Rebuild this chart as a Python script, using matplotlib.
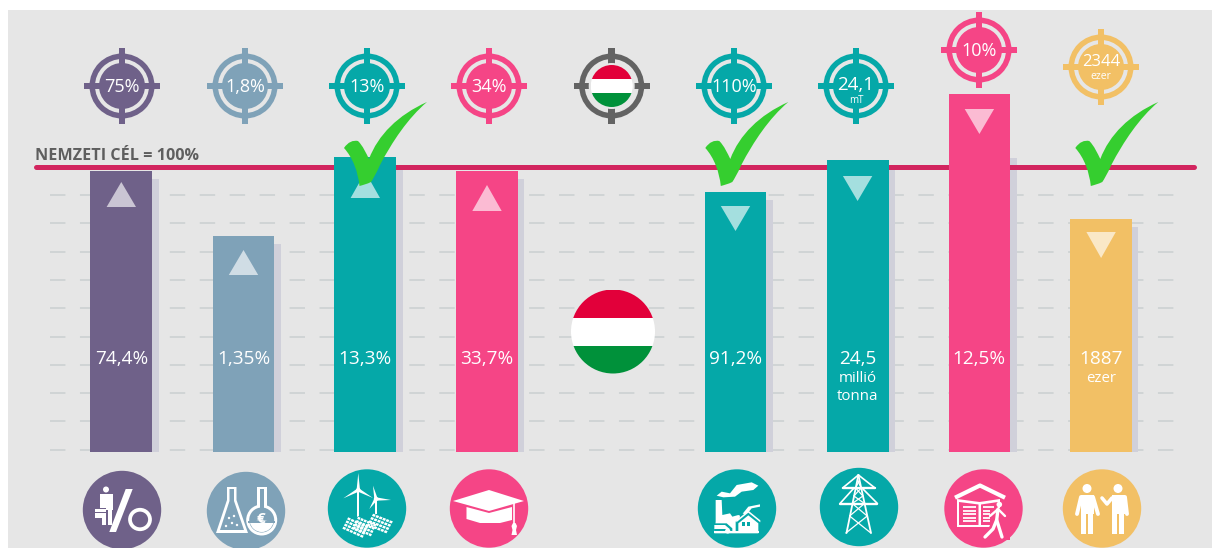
import numpy as np
import matplotlib
matplotlib.use("Agg")
import matplotlib.pyplot as plt
from matplotlib.patches import Circle, Rectangle, Polygon, PathPatch, Ellipse, Wedge
from matplotlib.path import Path

plt.rcParams['font.family'] = ['Open Sans', 'DejaVu Sans']

# ---- data (index: national target = 100) ----
bar_keys = ['foglalkoztatas', 'kfi', 'megujulo', 'felsofoku', 'energia', 'kibocsatas', 'iskola', 'szegenyseg']
bar_values = [98.6, 75.8, 103.5, 98.6, 91.2, 102.5, 125.6, 81.8]
shadow_values = [95.8, 73.0, 99.3, 95.8, 88.4, 99.3, 103.2, 79.0]
bar_main_labels = ['74,4%', '1,35%', '13,3%', '33,7%', '91,2%', '24,5', '12,5%', '1887']
bar_sub_labels = ['', '', '', '', '', 'millió\ntonna', '', 'ezer']
target_main_labels = ['75%', '1,8%', '13%', '34%', '110%', '24,1', '10%', '2344']
target_sub_labels = ['', '', '', '', '', 'mT', '', 'ezer']
arrow_up = [True, True, True, True, False, False, False, False]
grid_values = [0.8, 10.8, 20.6, 30.6, 40.5, 50.4, 60.3, 70.3, 80.2, 90.2]
target_level = 100

# ---- style and layout ----
PURPLE, SLATE, TEAL, PINK, YELLOW = '#6F6189', '#7FA2B8', '#05A8A8', '#F54586', '#F2C065'
GRAY = '#E6E6E6'
bar_colors = [PURPLE, SLATE, TEAL, PINK, TEAL, TEAL, PINK, YELLOW]
bar_x = [121.3, 243.5, 365.3, 487, 735.5, 857.6, 979.4, 1101.1]
target_x = [122, 245, 367, 489, 734, 856, 979, 1101]
target_y = [86, 86, 86, 86, 86, 86, 50, 67]
icon_x = [122, 246, 367, 489, 737, 859, 983.5, 1102]
icon_y = [510, 511, 508.5, 508.5, 508.5, 507, 508.5, 508.5]
tri_y = [(207, 182), (275, 250), (198, 172), (211, 185), (206, 231), (176, 201), (109, 134), (232, 258)]
BASE, UNIT = 452.0, 2.85

fig = plt.figure(figsize=(12.12, 5.48), dpi=100, facecolor='white')
ax = fig.add_axes([0, 0, 1, 1])
ax.set_xlim(0, 1212)
ax.set_ylim((BASE - 548) / UNIT, BASE / UNIT)
ax.axis('off')
ov = fig.add_axes([0, 0, 1, 1], zorder=3)
ov.set_xlim(0, 1212)
ov.set_ylim(548, 0)
ov.axis('off')
ov.patch.set_alpha(0)
fig.add_artist(Rectangle((7.5 / 1212, 0), 1, 1 - 9.5 / 548, transform=fig.transFigure, fc=GRAY, ec='none', zorder=-5))

# grid
ax.hlines(grid_values, 49.5, 1178, colors='#CACFD0', lw=1.1, linestyles=[(0, (10.1, 9.5))], zorder=1)
# bars and shadows
ax.bar(np.array(bar_x) + 6.5, shadow_values, width=61.8, color='#D0D0DA', zorder=2)
ax.plot([36, 1194], [target_level, target_level], color='#D2255F', lw=3.6, solid_capstyle='round', zorder=2.5)
ax.bar(bar_x, bar_values, width=61.8, color=bar_colors, zorder=3)
ov.text(35, 156, 'NEMZETI CÉL = 100%', fontsize=11.6, fontweight='bold', color='#5E5E5E', va='center', ha='left')


def target(x, y, c, disk=True):
    ov.add_patch(Circle((x, y), 32.5, fc=c, ec='none'))
    ov.add_patch(Circle((x, y), 27, fc=GRAY, ec='none'))
    ov.add_patch(Rectangle((x - 3.3, y - 38), 6.6, 76, fc=c, ec='none'))
    ov.add_patch(Rectangle((x - 38, y - 3.3), 76, 6.6, fc=c, ec='none'))
    ov.add_patch(Circle((x, y), 23, fc=c if disk else GRAY, ec='none'))


def flag(x, y, r, top, bot):
    clip = Circle((x, y), r, transform=ov.transData)
    for y0, y1, col in [(y - r, top, '#E2003A'), (top, bot, 'white'), (bot, y + r, '#00913A')]:
        p = Rectangle((x - r, y0), 2 * r, y1 - y0, fc=col, ec='none')
        ov.add_patch(p)
        p.set_clip_path(clip)


for x, y, c, m, s in zip(target_x, target_y, bar_colors, target_main_labels, target_sub_labels):
    target(x, y, c)
    if s == 'mT':
        ov.text(x, y - 1.5, m, color='white', fontsize=13.5, ha='center', va='center')
        ov.text(x, y + 14.5, s, color='white', fontsize=7, ha='center', va='center')
    elif s:
        ov.text(x, y - 4.5, m, color='white', fontsize=12, ha='center', va='center')
        ov.text(x, y + 9.5, s, color='white', fontsize=7.5, ha='center', va='center')
    else:
        ov.text(x, y + 1, m, color='white', fontsize=13, ha='center', va='center')

# central Hungarian flag and its target
target(611.7, 86, '#636363', disk=False)
flag(611.7, 86, 21, 79, 93)
flag(613, 331.5, 42, 318, 345.7)

# triangles and bar labels
for x, up, (b, a), m, s in zip(bar_x, arrow_up, tri_y, bar_main_labels, bar_sub_labels):
    ov.add_patch(Polygon([(x - 14.7, b), (x + 14.7, b), (x, a)], fc='white', alpha=0.64, ec='none'))
    ov.text(x, 359.5, m, color='white', fontsize=13.7, ha='center', va='center')
    if s:
        for i, line_txt in enumerate(s.split('\n')):
            ov.text(x, 378 + 18.5 * i, line_txt, color='white', fontsize=10.8, ha='center', va='center')


def check(dx):
    P = [(344, 148), (348, 142), (353, 140), (358, 141), (363, 146), (366, 153), (369, 159),
         (378, 135), (398, 115), (427, 102),
         (408, 118), (392, 142), (380, 165), (376, 174), (373, 179), (371, 182),
         (367, 184), (363, 185), (359.5, 186),
         (358, 172), (353, 158), (344, 148)]
    codes = [Path.MOVETO] + [Path.CURVE4] * (len(P) - 1)
    ov.add_patch(PathPatch(Path([(a + dx, b) for a, b in P], codes), fc='#35CE2F', ec='none', zorder=6))


for dx in (0, 361.3, 731.3):
    check(dx)

# bottom icons
W = 'white'
for x, y, c in zip(icon_x, icon_y, bar_colors):
    ov.add_patch(Circle((x, y), 39.2, fc=c, ec='none'))


def line(pts, lw=1.5, c=W, cap='round', z=4):
    xs, ys = zip(*pts)
    ov.plot(xs, ys, color=c, lw=lw, solid_capstyle=cap, zorder=z)


def rect(x0, y0, x1, y1, c=W, z=4):
    ov.add_patch(Rectangle((x0, y0), x1 - x0, y1 - y0, fc=c, ec='none', zorder=z))


def circ(x, y, r, c=W, z=4):
    ov.add_patch(Circle((x, y), r, fc=c, ec='none', zorder=z))


def poly(pts, c=W, z=4):
    ov.add_patch(Polygon(pts, fc=c, ec='none', zorder=z))


# 1 person with percent
circ(106, 489.5, 3)
rect(100, 494, 112.7, 510)
rect(102, 510, 106, 525)
rect(107.5, 510, 111.5, 525)
rect(94.3, 507.7, 106, 517.7, PURPLE)
rect(95.3, 508.5, 105.5, 517.5)
rect(95.3, 512.3, 105.5, 513.2, PURPLE)
poly([(125.7, 489), (132.7, 489), (116, 532), (109.3, 532)])
ov.add_patch(Ellipse((140, 519.5), 20, 19.5, fc='none', ec=W, lw=2.7, zorder=4))

# 2 flasks
poly([(227, 487), (236.5, 487), (236.5, 500), (248, 533), (216, 533), (227, 500)])
poly([(229.5, 489), (234, 489), (234, 501), (244, 530), (220, 530), (229.5, 501)], SLATE)
for px, py in [(229, 518), (234, 516), (232, 523), (226, 526), (237, 525)]:
    circ(px, py, 1.2)
rect(257, 487, 266.5, 506)
circ(261.7, 520, 15.5)
rect(259.5, 489, 264, 508, SLATE)
circ(261.7, 520, 12.5, SLATE)
ov.add_patch(Wedge((261.7, 520), 12, 10, 170, fc=W, ec='none', zorder=4))
ov.text(260.5, 519, '€', color=W, fontsize=11, fontweight='bold', ha='center', va='center', zorder=5)
rect(248, 521, 275, 523, SLATE, 4.5)

# 3 wind turbines and solar panels
for hx, hy, tips, tb, tw in [(358.3, 490, [(358.3, 473), (343.3, 498.3), (373, 498)], 517, 1.1),
                             (376, 499, [(373, 485.7), (391, 500), (369.3, 509)], 514, 0.8)]:
    rect(hx - tw, hy, hx + tw, tb)
    circ(hx, hy, 2.2)
    for tx, ty in tips:
        nx, ny = -(ty - hy), tx - hx
        n = np.hypot(nx, ny)
        nx, ny = 1.7 * nx / n, 1.7 * ny / n
        poly([(hx + nx, hy + ny), (hx - nx, hy - ny), (tx, ty)])
panels = [((366, 526), (20.5, 8), (7, -13), 6, 4), ((352, 529), (19, 8), (6, -13), 6, 4),
          ((341.7, 529), (21, 9.5), (6.3, -12.4), 6, 4)]
for o, u, v, nu, nv in panels:
    o, u, v = map(np.array, (o, u, v))
    poly([o - 0.6, o + u, o + u + v, o + v], TEAL, 4)
    for i in range(nu):
        for j in range(nv):
            p0 = o + u * (i + .12) / nu + v * (j + .16) / nv
            du, dv = u * .78 / nu, v * .68 / nv
            poly([p0, p0 + du, p0 + du + dv, p0 + dv], W, 4.1)

# 4 graduation cap
poly([(466.5, 507), (489, 513), (512, 507), (512, 520), (500, 523), (480, 523), (466.5, 519)])
poly([(453, 501), (489, 490), (524, 501), (489, 511)])
line([(514, 503), (514, 524)], 1.2)
poly([(511.5, 526), (513, 523), (515.5, 523), (517, 526), (516, 530), (517, 535), (511.5, 535), (512.5, 530)])


def fx(*pts):
    return [(695 + a / 3, 465 + b / 3) for a, b in pts]


# 5 factory
poly(fx((62, 105), (80, 105), (82, 150), (105, 145), (112, 155), (130, 150), (135, 152), (130, 205), (58, 205), (62, 170)))
poly(fx((65, 92), (80, 80), (105, 85), (125, 60), (170, 52), (190, 62), (175, 75), (140, 80), (120, 95), (85, 97)))
poly(fx((143, 146), (160, 125), (195, 118), (195, 125), (170, 130), (155, 148)))
poly(fx((58, 175), (95, 175), (112, 190), (112, 198), (58, 198)), TEAL, 4.2)
poly(fx((58, 180), (90, 180), (104, 192), (58, 192)), W, 4.3)
circ(695 + 98 / 3, 465 + 198 / 3, 2.6, W, 4.4)
poly(fx((122, 170), (160, 140), (198, 170), (198, 200), (122, 200)), TEAL, 4.5)
poly(fx((130, 175), (160, 151), (190, 175), (190, 205), (130, 205)), W, 4.6)
poly(fx((124, 172), (160, 143), (196, 172), (196, 166), (160, 137), (124, 166)), W, 4.6)
rect(695 + 141 / 3, 465 + 171 / 3, 695 + 150 / 3, 465 + 182 / 3, TEAL, 4.7)
rect(695 + 156 / 3, 465 + 171 / 3, 695 + 165 / 3, 465 + 182 / 3, TEAL, 4.7)
poly(fx((58, 198), (192, 198), (192, 205), (58, 205)), W, 4.7)

# 6 pylon
line([(858.4, 475), (846.5, 533)], 1.3)
line([(858.4, 475), (871, 533)], 1.3)
line([(842.6, 488), (875, 488)], 1.7)
line([(840, 503.5), (877.4, 503.5)], 1.7)
line([(858.4, 475), (842.6, 488)], 1.2)
line([(858.4, 475), (875, 488)], 1.2)
line([(854, 488), (840, 503.5)], 1.2)
line([(862, 488), (877.4, 503.5)], 1.2)
ys = [480, 488, 496, 503.5, 516, 533]
for a, b in zip(ys[:-1], ys[1:]):
    wa, wb = (a - 475) * 0.215, (b - 475) * 0.215
    line([(858.4 - wa, a), (858.4 + wb, b)], 0.9)
    line([(858.4 + wa, a), (858.4 - wb, b)], 0.9)

# 7 house, book, walker
line([(955, 497.7), (980, 485.5), (1005, 497.7)], 3.0, cap='butt')
poly([(957, 499), (979.5, 502), (1000, 499), (1000, 527), (957, 527)])
poly([(959, 502), (978.5, 504.5), (978.5, 525), (959, 525)], PINK)
poly([(981, 504.5), (998, 502), (998, 525), (981, 525)], PINK)
for ly in (507, 510.5, 514, 517.5, 521):
    line([(963, ly), (976, ly)], 1.3, W, 'butt')
    line([(983, ly), (994, ly)], 1.3, W, 'butt')
poly([(990, 508), (1010, 508), (1010, 540), (984, 540), (990, 525)], PINK, 4.5)
circ(999.3, 504.5, 2.8, W, 5)
line([(998, 509), (996.7, 520), (1002, 537)], 2.4, W, 'round', 5)
line([(996.7, 520), (993, 529), (985, 537)], 2.4, W, 'round', 5)
line([(999, 510), (1005, 516)], 1.7, W, 'round', 5)
line([(997, 510), (990, 516)], 1.7, W, 'round', 5)

# 8 two people
for cx in (1087, 1118):
    circ(cx, 488.5, 4.5)
    rect(cx - 6.5, 495, cx + 6.5, 514)
    rect(cx - 6, 514, cx - 1.2, 534)
    rect(cx + 1.2, 514, cx + 6, 534)
line([(1081, 497), (1077, 514)], 2.8)
line([(1093, 497), (1098, 514)], 2.8)
line([(1112, 498), (1107, 504), (1102, 498)], 2.6)
line([(1125, 497), (1127, 514)], 2.8)

fig.savefig('out.png', dpi=100, facecolor='white')
